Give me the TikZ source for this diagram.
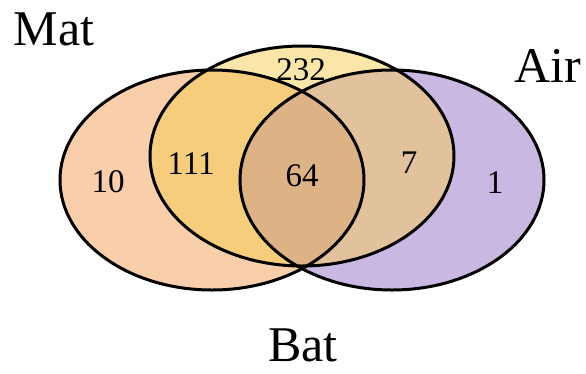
\documentclass[tikz,border=0pt]{standalone}
\usepackage{fontspec}
\setmainfont{Liberation Serif}
\definecolor{cMat}{RGB}{248,206,171}
\definecolor{cAir}{RGB}{201,184,225}
\definecolor{cBat}{RGB}{251,230,170}
\definecolor{cMB}{RGB}{245,205,123}
\definecolor{cAB}{RGB}{225,194,156}
\definecolor{cAll}{RGB}{221,178,132}
\begin{document}
\begin{tikzpicture}[x=1pt,y=-1pt,
  setlabel/.style={font=\fontsize{50}{56}\selectfont, inner sep=0pt, anchor=base},
  count/.style={font=\fontsize{33}{38}\selectfont, inner sep=0pt},
  outline/.style={draw=black, line width=3pt}]
\useasboundingbox (0,0) rectangle (586,373);
\def\ML{(212,180) ellipse [x radius=152, y radius=110]}
\def\MC{(302,156) ellipse [x radius=152, y radius=110]}
\def\MR{(392,180) ellipse [x radius=152, y radius=110]}
% base fills
\fill[cMat] \ML;
\fill[cAir] \MR;
\fill[cBat] \MC;
\begin{scope}
  \clip \MC;
  \fill[cMB] \ML;
  \fill[cAB] \MR;
  \clip \ML;
  \fill[cAll] \MR;
\end{scope}
% outlines
\draw[outline] \ML;
\draw[outline] \MC;
\draw[outline] \MR;
% labels
\node[setlabel] (mat) at (54,45) {Mat};
\node[setlabel] (air) at (548,82) {Air};
\node[setlabel] (bat) at (303,361) {Bat};
% counts
\node[count] (n232) at (301,70) {232};
\node[count] (n111) at (191,164) {111};
\node[count] (n10)  at (108,182) {10};
\node[count] (n64)  at (302,176) {64};
\node[count] (n7)   at (409,163) {7};
\node[count] (n1)   at (495,183) {1};
\end{tikzpicture}
\end{document}
